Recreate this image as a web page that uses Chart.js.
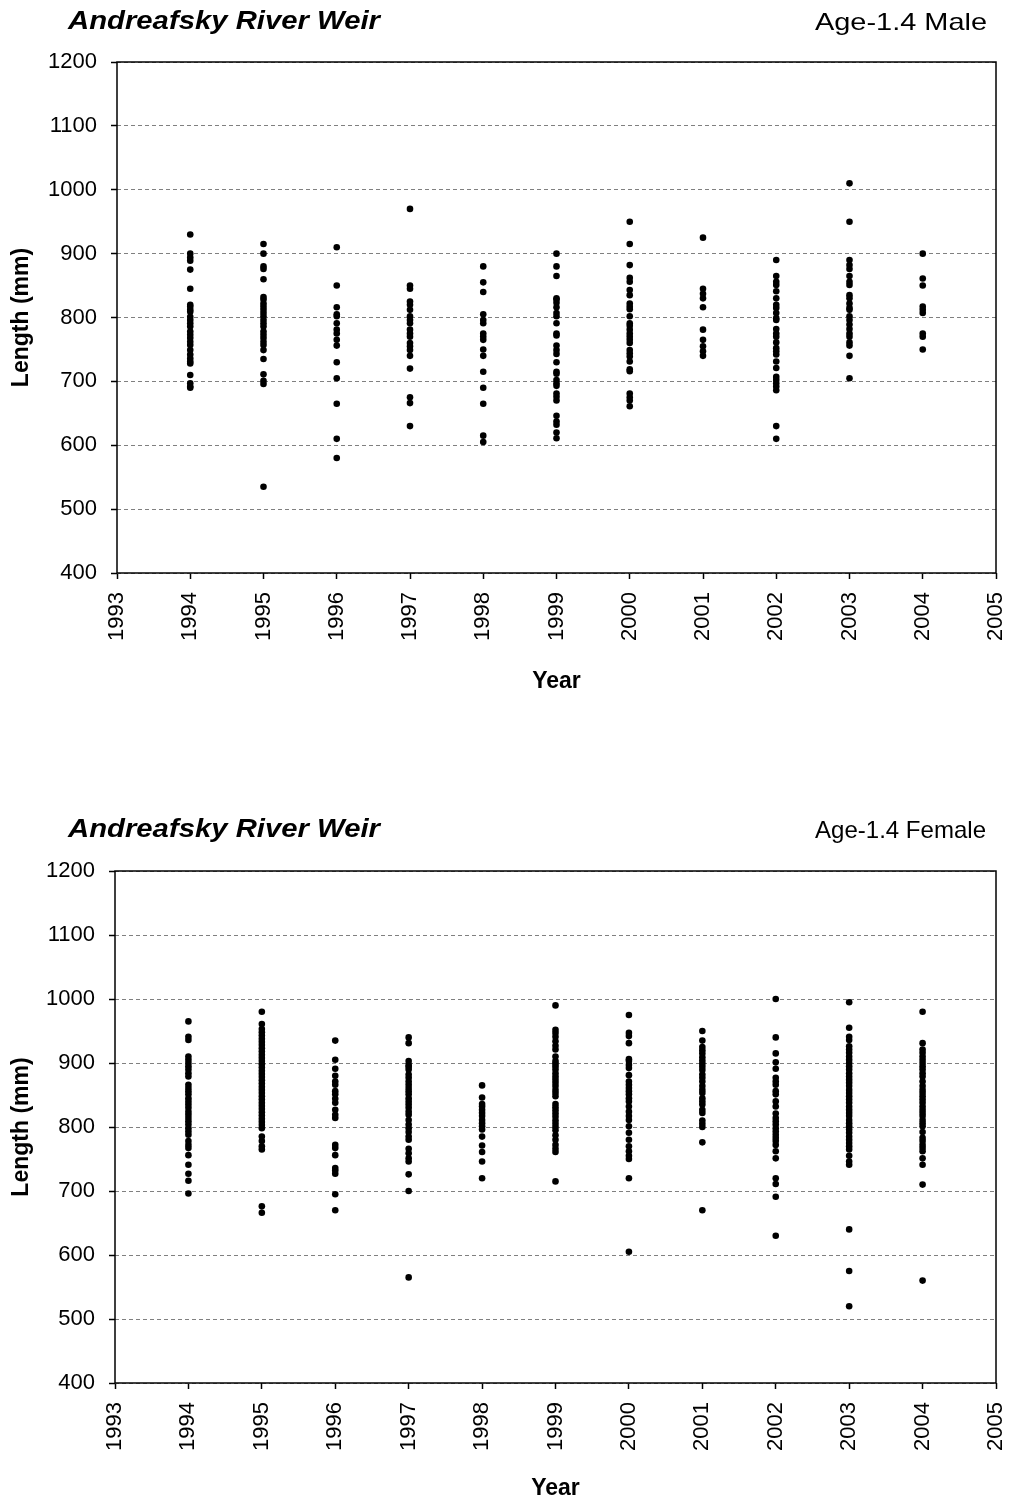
<!DOCTYPE html>
<html>
<head>
<meta charset="utf-8">
<script src="https://cdn.jsdelivr.net/npm/chart.js@4.4.1/dist/chart.umd.min.js"></script>
<style>
  html, body { margin: 0; padding: 0; background: #fff; overflow: hidden; }
  .box { position: absolute; left: 0; width: 1009px; }
  #c1 { top: 0; height: 700px; }
  #c2 { top: 760px; height: 742px; }
</style>
</head>
<body>
<div class="box" id="c1"><canvas id="chart1"></canvas></div>
<div class="box" id="c2"><canvas id="chart2"></canvas></div>
<script>
// ---- Data ----
const years = [1994, 1995, 1996, 1997, 1998, 1999, 2000, 2001, 2002, 2003, 2004];
const yTicks = [400, 500, 600, 700, 800, 900, 1000, 1100, 1200];
const xTicks = [1993, 1994, 1995, 1996, 1997, 1998, 1999, 2000, 2001, 2002, 2003, 2004, 2005];

// Age-1.4 Male lengths (mm) by year
const male1994 = [930, 900, 894, 889, 875, 845, 820, 817, 812, 809, 801, 796, 791, 786, 778, 773, 768, 762, 757, 749, 742, 736, 731, 728, 710, 697, 692, 690];
const male1995 = [915, 900, 880, 876, 860, 832, 828, 822, 817, 812, 807, 802, 796, 791, 786, 778, 773, 768, 762, 757, 749, 735, 711, 701, 696, 535];
const male1996 = [910, 850, 816, 805, 802, 791, 781, 775, 765, 756, 730, 705, 665, 610, 580];
const male1997 = [970, 850, 845, 825, 820, 812, 802, 796, 791, 781, 775, 770, 760, 755, 749, 740, 720, 675, 666, 630];
const male1998 = [880, 855, 840, 805, 796, 791, 775, 770, 765, 750, 740, 715, 690, 665, 615, 605];
const male1999 = [900, 880, 865, 830, 828, 823, 816, 807, 802, 791, 775, 772, 756, 749, 743, 730, 715, 712, 702, 697, 693, 681, 676, 670, 646, 637, 632, 620, 611];
const male2000 = [950, 915, 882, 862, 856, 843, 835, 822, 817, 813, 802, 791, 787, 781, 775, 770, 765, 760, 749, 744, 739, 731, 719, 716, 681, 675, 670, 661];
const male2001 = [925, 845, 837, 830, 816, 781, 765, 755, 747, 740];
const male2002 = [890, 865, 856, 851, 841, 830, 820, 815, 807, 799, 796, 782, 775, 770, 761, 752, 747, 742, 731, 721, 707, 702, 697, 692, 686, 630, 610];
const male2003 = [1010, 950, 890, 882, 876, 865, 856, 851, 835, 830, 822, 815, 812, 802, 796, 789, 782, 775, 770, 761, 756, 740, 705];
const male2004 = [900, 861, 850, 817, 812, 807, 775, 770, 750];

// Age-1.4 Female lengths (mm) by year
const female1994 = [965, 941, 936, 910, 905, 900, 895, 890, 884, 879, 866, 861, 856, 851, 845, 840, 835, 830, 824, 819, 814, 809, 804, 798, 793, 788, 778, 772, 767, 756, 741, 727, 716, 696];
const female1995 = [980, 961, 953, 948, 943, 938, 933, 928, 923, 918, 913, 908, 903, 898, 893, 888, 883, 878, 873, 868, 863, 858, 853, 848, 843, 838, 833, 828, 823, 818, 813, 808, 803, 798, 785, 778, 770, 765, 676, 666];
const female1996 = [935, 905, 891, 880, 871, 866, 856, 851, 844, 838, 827, 819, 814, 772, 767, 756, 736, 732, 727, 695, 670];
const female1997 = [940, 931, 903, 897, 894, 890, 882, 877, 871, 866, 861, 856, 851, 845, 840, 835, 830, 824, 819, 811, 804, 798, 792, 785, 780, 766, 759, 751, 746, 726, 700, 565];
const female1998 = [865, 846, 836, 832, 827, 822, 817, 811, 806, 801, 796, 785, 771, 761, 746, 720];
const female1999 = [990, 952, 947, 941, 934, 927, 921, 910, 903, 899, 895, 890, 884, 879, 874, 869, 864, 858, 853, 848, 836, 831, 826, 821, 816, 810, 805, 800, 795, 787, 780, 772, 766, 761, 715];
const female2000 = [975, 947, 942, 931, 906, 903, 897, 892, 881, 871, 866, 861, 856, 851, 845, 840, 832, 824, 817, 811, 801, 791, 780, 770, 762, 755, 750, 720, 605];
const female2001 = [950, 935, 925, 920, 915, 909, 904, 899, 894, 889, 882, 877, 871, 864, 858, 853, 845, 840, 835, 827, 822, 810, 805, 800, 776, 670];
const female2002 = [1000, 940, 915, 901, 891, 877, 871, 866, 856, 851, 840, 832, 821, 814, 809, 804, 798, 793, 788, 783, 778, 772, 762, 751, 720, 711, 691, 630];
const female2003 = [995, 955, 941, 936, 926, 921, 916, 910, 905, 900, 895, 890, 884, 879, 874, 869, 864, 858, 853, 848, 843, 838, 832, 827, 822, 817, 811, 806, 801, 796, 791, 785, 780, 775, 770, 765, 755, 746, 741, 640, 575, 520];
const female2004 = [980, 931, 921, 916, 910, 905, 900, 895, 890, 884, 879, 871, 864, 858, 853, 848, 843, 838, 832, 827, 822, 817, 811, 806, 801, 792, 783, 778, 772, 767, 762, 751, 741, 710, 560];

const maleByYear = [male1994, male1995, male1996, male1997, male1998, male1999, male2000, male2001, male2002, male2003, male2004];
const femaleByYear = [female1994, female1995, female1996, female1997, female1998, female1999, female2000, female2001, female2002, female2003, female2004];

const chartTitle = 'Andreafsky River Weir';
const maleSubtitle = 'Age-1.4 Male';
const femaleSubtitle = 'Age-1.4 Female';
const xTitle = 'Year';
const yTitle = 'Length (mm)';

// ---- Rendering ----
const FONT = '"Liberation Sans", Arial, Helvetica, sans-serif';
Chart.defaults.font.family = FONT;
Chart.defaults.color = '#000';

function toPoints(byYear) {
  const pts = [];
  years.forEach((yr, i) => byYear[i].forEach(v => pts.push({x: yr, y: v})));
  return pts;
}

const headerPlugin = {
  id: 'header',
  afterDraw(chart, args, o) {
    const ctx = chart.ctx;
    ctx.save();
    ctx.fillStyle = '#000';
    ctx.textBaseline = 'alphabetic';
    ctx.textAlign = 'left';
    ctx.font = 'italic bold 26px ' + FONT;
    let w = ctx.measureText(o.title).width;
    ctx.save();
    ctx.translate(o.titleX, o.baseline);
    ctx.scale(o.titleWidth / w, 1);
    ctx.fillText(o.title, 0, 0);
    ctx.restore();
    ctx.font = '24px ' + FONT;
    w = ctx.measureText(o.sub).width;
    ctx.save();
    ctx.translate(o.subRight - o.subWidth, o.subBaseline);
    ctx.scale(o.subWidth / w, 1);
    ctx.fillText(o.sub, 0, 0);
    ctx.restore();
    ctx.restore();
  }
};

const framePlugin = {
  id: 'frame',
  beforeDatasetsDraw(chart) {
    const {ctx, chartArea: a} = chart;
    ctx.save();
    ctx.strokeStyle = '#000';
    ctx.lineWidth = 1.5;
    ctx.setLineDash([]);
    ctx.strokeRect(a.left, a.top, a.right - a.left, a.bottom - a.top);
    ctx.restore();
  }
};

function makeChart(id, byYear, cfg) {
  return new Chart(document.getElementById(id), {
    type: 'scatter',
    data: {
      datasets: [{
        data: toPoints(byYear),
        backgroundColor: '#000',
        borderColor: '#000',
        borderWidth: 0,
        pointRadius: 3.3,
        pointHoverRadius: 3.3
      }]
    },
    options: {
      responsive: true,
      maintainAspectRatio: false,
      animation: false,
      events: [],
      layout: { padding: { top: cfg.padTop, right: 13, left: 0, bottom: 0 } },
      plugins: {
        legend: { display: false },
        tooltip: { enabled: false },
        header: cfg.header
      },
      scales: {
        x: {
          type: 'linear',
          min: xTicks[0],
          max: xTicks[xTicks.length - 1],
          afterBuildTicks: s => { s.ticks = xTicks.map(v => ({value: v})); },
          afterFit: s => { s.height = cfg.xHeight; s.paddingLeft = 0; s.paddingRight = 0; },
          border: { display: false, dash: [] },
          grid: {
            drawOnChartArea: false,
            drawTicks: true,
            tickLength: 6,
            tickColor: '#000',
            tickWidth: 1.5
          },
          ticks: {
            autoSkip: false,
            minRotation: 90,
            maxRotation: 90,
            padding: 13,
            color: '#000',
            font: { size: 22 },
            callback: v => String(v)
          },
          title: {
            display: true,
            text: xTitle,
            color: '#000',
            font: { size: 23, weight: 'bold' },
            padding: { top: 0, bottom: cfg.xTitlePad }
          }
        },
        y: {
          type: 'linear',
          min: yTicks[0],
          max: yTicks[yTicks.length - 1],
          afterBuildTicks: s => { s.ticks = yTicks.map(v => ({value: v})); },
          afterFit: s => { s.width = cfg.yWidth; s.paddingTop = 0; s.paddingBottom = 0; },
          border: { display: false, dash: [4, 3] },
          grid: {
            color: '#808080',
            lineWidth: 1,
            borderDash: [4, 3],
            drawTicks: true,
            tickLength: 6,
            tickColor: '#000',
            tickWidth: 1.5,
            tickBorderDash: []
          },
          ticks: {
            padding: 14,
            color: '#000',
            font: { size: 22 },
            callback: v => String(v)
          },
          title: {
            display: true,
            text: yTitle,
            color: '#000',
            font: { size: 23, weight: 'bold' },
            padding: { top: 8, bottom: 0 }
          }
        }
      }
    },
    plugins: [framePlugin, headerPlugin]
  });
}

makeChart('chart1', maleByYear, {
  padTop: 62, xHeight: 127, yWidth: 117, xTitlePad: 5,
  header: { title: chartTitle, titleX: 68, titleWidth: 312, baseline: 28.5,
            sub: maleSubtitle, subRight: 987, subWidth: 172, subBaseline: 29.5 }
});
makeChart('chart2', femaleByYear, {
  padTop: 111, xHeight: 119, yWidth: 115, xTitlePad: 0,
  header: { title: chartTitle, titleX: 68, titleWidth: 312, baseline: 76.7,
            sub: femaleSubtitle, subRight: 986, subWidth: 171, subBaseline: 77.7 }
});
</script>
</body>
</html>
